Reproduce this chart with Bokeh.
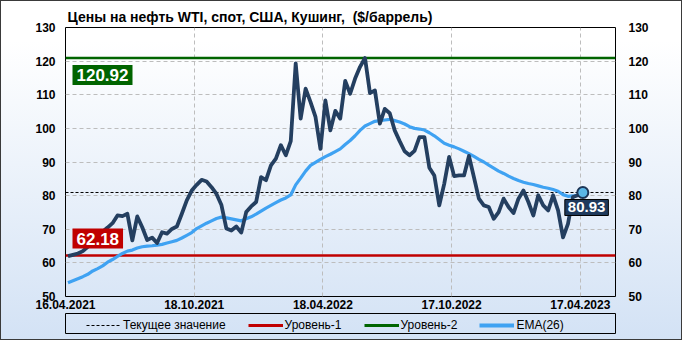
from bokeh.plotting import figure
from bokeh.layouts import column
from bokeh.models import Label, Legend, LegendItem, LinearAxis, FixedTicker, Range1d
from bokeh.embed import file_html
from bokeh.resources import INLINE

title_text = "Цены на нефть WTI, спот, США, Кушинг,\u00a0 ($/баррель)"
date_labels = ["16.04.2021", "18.10.2021", "18.04.2022", "17.10.2022", "17.04.2023"]
date_idx = [0, 26, 52, 78, 104]
y_ticks = [50, 60, 70, 80, 90, 100, 110, 120, 130]
legend_labels = ["Текущее значение", "Уровень-1", "Уровень-2", "EMA(26)"]

price = [
    62.0, 62.4, 62.8, 63.5, 64.8, 66.5, 68.0, 69.3, 70.5, 71.8,
    74.1, 73.9, 74.6, 66.7, 73.8, 70.6, 66.8, 67.5, 65.9, 69.1,
    68.7, 70.1, 70.8, 74.6, 78.6, 81.5, 83.2, 84.7, 84.2, 82.5,
    80.5, 77.2, 70.2, 69.6, 70.8, 69.0, 75.1, 76.8, 78.1, 85.5,
    84.6, 89.0, 91.0, 95.0, 92.0, 96.2, 119.3, 102.9, 111.8, 107.8,
    103.4, 93.9, 108.3, 99.4, 105.2, 102.9, 114.1, 110.3, 114.8, 118.3,
    120.92, 110.5, 111.3, 101.4, 105.8, 104.5, 99.4, 96.2, 93.2, 92.0,
    93.3, 97.4, 97.4, 88.3, 86.0, 77.1, 83.5, 91.5, 85.8, 86.0,
    86.0, 91.8, 85.5, 79.1, 77.1, 76.6, 73.1, 75.1, 79.1, 76.6,
    74.8, 79.1, 81.5, 78.1, 74.1, 80.1, 77.1, 75.6, 80.1, 75.6,
    67.6, 71.6, 79.6, 80.1, 80.93,
]

ema = [
    54.1, 54.7, 55.3, 55.9, 56.6, 57.6, 58.3, 59.1, 60.2, 61.0,
    61.9, 62.8, 63.5, 63.8, 64.4, 64.8, 65.0, 65.1, 65.3, 65.5,
    65.9, 66.3, 66.7, 67.4, 68.2, 69.0, 70.2, 71.0, 71.8, 72.5,
    73.2, 73.6, 73.4, 73.1, 72.8, 72.5, 73.1, 73.7, 74.5, 75.4,
    76.3, 77.1, 77.9, 78.7, 79.3, 80.2, 83.2, 85.2, 87.3, 89.0,
    89.9, 90.8, 91.6, 92.3, 93.1, 93.9, 95.2, 96.4, 97.8, 99.4,
    100.7, 101.4, 102.1, 102.3, 102.5, 102.7, 102.3, 101.9, 101.3, 100.5,
    100.0, 99.8, 99.5, 98.7, 97.8, 96.7, 95.6, 95.0, 94.5, 93.9,
    93.2, 92.5, 91.7, 90.8, 90.0, 89.1, 88.2, 87.3, 86.6, 85.8,
    85.1, 84.5, 84.0, 83.6, 83.3, 82.9, 82.5, 82.2, 81.8, 81.3,
    80.3, 79.8, 79.9, 80.2, 80.6,
]

level1 = 62.18
level2 = 120.92
current = price[-1]

X_MAX = 111.1
x = [i + 0.5 for i in range(len(price))]
span_x = [0, X_MAX]

COL_CUR, COL_L1, COL_L2, COL_EMA, COL_PRICE = "black", "#c00000", "#006400", "#3fa2f2", "#243f60"

p = figure(width=682, height=313, output_backend="svg", toolbar_location=None,
           x_range=Range1d(0, X_MAX), y_range=Range1d(50, 130),
           min_border_left=65, min_border_right=67, min_border_top=27, min_border_bottom=17,
           title=title_text)
p.border_fill_color = None
p.background_fill_color = None
p.outline_line_color = "black"
p.outline_line_width = 1

p.title.text_font = "Liberation Sans"
p.title.text_font_size = "14px"
p.title.text_font_style = "bold"
p.title.text_color = "black"
p.title.align = "left"
p.title.offset = 2
p.title.standoff = 6

def style_axis(ax, standoff):
    ax.axis_line_color = None
    ax.major_tick_line_color = None
    ax.minor_tick_line_color = None
    ax.major_tick_out = 0
    ax.major_tick_in = 0
    ax.minor_tick_out = 0
    ax.minor_tick_in = 0
    ax.major_label_text_font = "Liberation Sans"
    ax.major_label_text_font_size = "12px"
    ax.major_label_text_font_style = "bold"
    ax.major_label_text_color = "black"
    ax.major_label_standoff = standoff

p.yaxis.ticker = FixedTicker(ticks=y_ticks)
style_axis(p.yaxis[0], 10)
ry = LinearAxis(ticker=FixedTicker(ticks=y_ticks))
style_axis(ry, 13)
p.add_layout(ry, "right")

p.xaxis.ticker = FixedTicker(ticks=date_idx)
p.xaxis.major_label_overrides = {i: d for i, d in zip(date_idx, date_labels)}
style_axis(p.xaxis[0], 3)

for g in (p.xgrid, p.ygrid):
    g.grid_line_color = "#bdbdbd"
    g.grid_line_dash = "4 3"
    g.grid_line_width = 1
p.ygrid.ticker = FixedTicker(ticks=y_ticks)
p.xgrid.ticker = FixedTicker(ticks=date_idx)

p.line(span_x, [current, current], line_color=COL_CUR, line_dash="3 2", line_width=1)
p.line(span_x, [level1, level1], line_color=COL_L1, line_width=2.5)
p.line(span_x, [level2, level2], line_color=COL_L2, line_width=2.5)
p.line(x, ema, line_color=COL_EMA, line_width=3.2, line_join="round")
p.line(x, price, line_color=COL_PRICE, line_width=3.8, line_join="round")
p.scatter([x[-1]], [price[-1]], size=11, fill_color="#5ab6e6", line_color="#1c3557", line_width=2)

lab_font = "Liberation Sans"
p.add_layout(Label(x=0, y=level2, x_offset=7, y_offset=-7, text=f"{level2:.2f}",
                   text_baseline="top", text_align="left", text_color="white",
                   text_font=lab_font, text_font_size="17px", text_font_style="bold",
                   background_fill_color=COL_L2, padding=4))
p.add_layout(Label(x=0, y=level1, x_offset=7, y_offset=7, text=f"{level1:.2f}",
                   text_baseline="bottom", text_align="left", text_color="white",
                   text_font=lab_font, text_font_size="17px", text_font_style="bold",
                   background_fill_color=COL_L1, padding=4))
p.add_layout(Label(x=x[-1], y=current, x_offset=-18, y_offset=-7, text=f"{current:.2f}",
                   text_baseline="top", text_align="left", text_color="white",
                   text_font=lab_font, text_font_size="15px", text_font_style="bold",
                   background_fill_color="#1f3a5c", border_line_color="black",
                   border_line_width=1, padding=3))

# legend strip below the chart; its frame outline is the legend box,
# its ranges keep the proxy lines out of view
p2 = figure(width=682, height=27, output_backend="svg", toolbar_location=None,
            x_range=Range1d(-2, -1), y_range=Range1d(-2, -1),
            min_border_left=65, min_border_right=67, min_border_top=0, min_border_bottom=7)
p2.axis.visible = False
p2.grid.visible = False
p2.outline_line_color = "black"
p2.outline_line_width = 1
p2.border_fill_color = None
p2.background_fill_color = None
l_cur = p2.line(x, [current] * len(x), line_color=COL_CUR, line_dash="3 2", line_width=1)
l_l1 = p2.line(x, [level1] * len(x), line_color=COL_L1, line_width=3)
l_l2 = p2.line(x, [level2] * len(x), line_color=COL_L2, line_width=3)
l_ema = p2.line(x, ema, line_color=COL_EMA, line_width=4)
legend = Legend(items=[LegendItem(label=t, renderers=[r]) for t, r in
                       zip(legend_labels, [l_cur, l_l1, l_l2, l_ema])],
                orientation="horizontal", location=(21, 1))
legend.border_line_color = None
legend.background_fill_alpha = 0
legend.label_text_font = "Liberation Sans"
legend.label_text_font_size = "12px"
legend.label_text_color = "black"
legend.glyph_width = 35
legend.glyph_height = 12
legend.label_standoff = 2
legend.spacing = 22
legend.padding = 3
legend.margin = 0
legend.label_height = 12
p2.add_layout(legend)

layout = column(p, p2, spacing=0)
layout.styles = {"background": "linear-gradient(180deg, #ffffff 0%, #ffffff 12%, #d3e2f5 100%)",
                 "box-shadow": "inset 0 0 0 1px #3a3a3a"}

open("out.html", "w").write(file_html(layout, INLINE))
